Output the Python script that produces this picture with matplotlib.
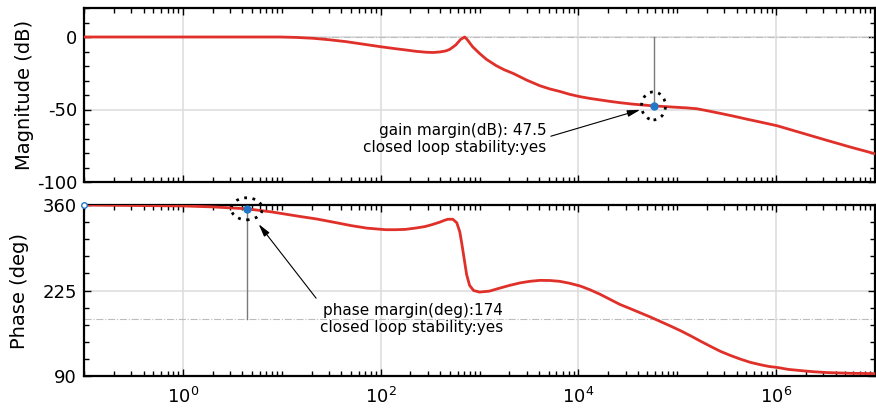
import numpy as np
import matplotlib.pyplot as plt
from matplotlib.patches import Ellipse
from matplotlib.ticker import FixedLocator, LogLocator, NullFormatter, MultipleLocator, LogFormatterSciNotation
from matplotlib.transforms import ScaledTranslation

plt.rcParams['font.family'] = 'DejaVu Sans'
plt.rcParams['axes.unicode_minus'] = False

# open loop magnitude, log10(w) -> dB
mag_logw = [-1.0, 0.0, 0.98, 1.15, 1.32, 1.48, 1.65, 1.82, 2.0, 2.13, 2.26, 2.36, 2.46,
            2.53, 2.60, 2.66, 2.70, 2.76, 2.81, 2.85, 2.88, 2.93, 3.0, 3.07, 3.17,
            3.25, 3.34, 3.48, 3.61, 3.71, 3.81, 3.91, 4.02, 4.12, 4.22, 4.32, 4.42,
            4.55, 4.76, 4.95, 5.10, 5.20, 5.30, 5.43, 5.57, 5.70, 5.85, 6.01, 6.25,
            6.50, 6.75, 7.01]
mag_db = [0.0, 0.0, 0.0, -0.3, -0.9, -1.9, -3.2, -4.9, -6.7, -7.9, -9.0, -9.9, -10.5,
          -10.7, -10.3, -9.6, -8.5, -5.5, -1.6, 0.0, -2.1, -6.7, -11.3, -15.4, -19.8,
          -22.6, -25.1, -29.8, -33.6, -35.8, -37.5, -39.5, -41.2, -42.4, -43.4, -44.4, -45.3,
          -46.3, -47.5, -48.3, -48.9, -49.5, -50.8, -52.6, -54.6, -56.6, -58.8, -61.2, -66.0,
          -71.0, -75.9, -80.7]

# open loop phase, log10(w) -> deg
phase_logw = [-1.0, 0.0, 0.3, 0.646, 0.9, 1.18, 1.35, 1.52, 1.7, 1.86, 2.05, 2.15,
              2.25, 2.35, 2.45, 2.52, 2.60, 2.64, 2.68, 2.73, 2.77, 2.80, 2.82, 2.85,
              2.87, 2.90, 2.94, 3.0, 3.1, 3.21, 3.31, 3.41, 3.51, 3.61, 3.71, 3.81,
              3.91, 4.02, 4.12, 4.22, 4.32, 4.42, 4.53, 4.63, 4.73, 4.83, 4.93, 5.04,
              5.14, 5.24, 5.34, 5.44, 5.54, 5.64, 5.74, 5.85, 5.93, 6.02, 6.12, 6.25,
              6.38, 6.52, 6.75, 7.01]
phase_deg = [360, 358.5, 357, 354, 349, 342, 338, 333, 327.5, 323.5, 321, 321,
             321.5, 323.5, 326, 329, 333, 335.5, 337.5, 337.5, 332, 318, 300, 270,
             250, 233, 225, 222.5, 224, 229, 233.3, 237, 239.5, 241, 240.8, 239.5,
             236.5, 232, 226, 219, 211, 203, 196, 189.5, 183, 176, 169, 161,
             153, 144.6, 136.5, 128.7, 122.3, 116.6, 111.5, 107.5, 105, 103.3, 100.5, 98.5,
             96.7, 95.4, 94.3, 93.7]

# margins
gm_logw = 4.76
gm_db = 47.5
pm_logw = 0.646
pm_deg = 174

red = '#e0302a'
blue = '#1f78c8'
w_mag = 10 ** np.array(mag_logw)
w_ph = 10 ** np.array(phase_logw)
gm_w = 10 ** gm_logw
pm_w = 10 ** pm_logw

fig = plt.figure(figsize=(8.76, 4.12), dpi=100)
ax1 = fig.add_axes([84 / 876, 1 - 182 / 412, 791 / 876, 174 / 412])
ax2 = fig.add_axes([84 / 876, 1 - 376 / 412, 791 / 876, 171 / 412])

for ax in (ax1, ax2):
    ax.set_xscale('log')
    ax.set_xlim(0.1, 1e7)
    ax.xaxis.set_major_locator(FixedLocator([1, 1e2, 1e4, 1e6]))
    ax.xaxis.set_minor_locator(LogLocator(base=10, subs=np.arange(1, 10), numticks=50))
    ax.xaxis.set_minor_formatter(NullFormatter())
    ax.grid(True, which='major', color='#dedede', lw=1.2)
    ax.tick_params(which='both', direction='in', top=True, right=True,
                   width=1, labelsize=13, pad=5)
    ax.tick_params(which='major', length=5)
    ax.tick_params(which='minor', length=3.5)
    for s in ax.spines.values():
        s.set_linewidth(1.6)
    ax.set_axisbelow(True)

# magnitude
ax1.plot(w_mag, mag_db, color=red, lw=2, zorder=3)
ax1.axhline(0, color='#bdbdbd', lw=0.8, ls='-.', zorder=2)
ax1.plot([gm_w, gm_w], [0, -gm_db], color='#7a7a7a', lw=1, zorder=2)
ax1.plot(gm_w, -gm_db, 'o', color=blue, ms=5, zorder=5)
ax1.set_ylim(-100, 20)
ax1.yaxis.set_major_locator(MultipleLocator(50))
ax1.yaxis.set_minor_locator(MultipleLocator(10))
ax1.tick_params(labelbottom=False)
ax1.set_ylabel('Magnitude (dB)', fontsize=14)
ax1.yaxis.set_label_coords(-0.063, 0.5)

t1 = fig.dpi_scale_trans + ScaledTranslation(gm_w, -gm_db, ax1.transData)
ax1.add_patch(Ellipse((0, 0), 0.24, 0.28, transform=t1, fill=False, ec='k',
                      lw=2, ls=(0, (1, 2)), zorder=6, clip_on=False))
ax1.annotate('gain margin(dB): %.1f\nclosed loop stability:yes' % gm_db,
             xy=(gm_w, -gm_db), xytext=(0.585, 0.247), textcoords='axes fraction',
             ha='right', va='center', fontsize=11, linespacing=1.15,
             arrowprops=dict(arrowstyle='-|>,head_length=0.7,head_width=0.18',
                             color='k', lw=0.8, relpos=(1, 0.55), shrinkA=1, shrinkB=10))

# phase
ax2.plot(w_ph, phase_deg, color=red, lw=2, zorder=3)
ax2.axhline(180, color='#bdbdbd', lw=0.8, ls='-.', zorder=2)
ax2.plot([pm_w, pm_w], [180 + pm_deg, 180], color='#7a7a7a', lw=1, zorder=2)
ax2.plot(pm_w, 180 + pm_deg, 'o', color=blue, ms=5, zorder=5)
ax2.plot(0.1, 360, 'o', mfc='white', mec=blue, ms=4, mew=1, zorder=6, clip_on=False)
ax2.set_ylim(90, 360)
ax2.yaxis.set_major_locator(FixedLocator([90, 225, 360]))
ax2.yaxis.set_minor_locator(FixedLocator(np.arange(90, 361, 27)))
ax2.xaxis.set_major_formatter(LogFormatterSciNotation())
ax2.tick_params(axis='x', pad=8)
ax2.set_ylabel('Phase (deg)', fontsize=14)
ax2.yaxis.set_label_coords(-0.069, 0.5)

t2 = fig.dpi_scale_trans + ScaledTranslation(pm_w, 180 + pm_deg, ax2.transData)
ax2.add_patch(Ellipse((0, 0), 0.31, 0.22, transform=t2, fill=False, ec='k',
                      lw=2, ls=(0, (1, 2)), zorder=6, clip_on=False))
ax2.annotate('phase margin(deg):%d\nclosed loop stability:yes' % pm_deg,
             xy=(pm_w, 180 + pm_deg), xytext=(0.53, 0.333), textcoords='axes fraction',
             ha='right', va='center', fontsize=11, linespacing=1.15,
             arrowprops=dict(arrowstyle='-|>,head_length=0.7,head_width=0.18',
                             color='k', lw=0.8, relpos=(0.0, 1.0), shrinkA=2, shrinkB=14))

fig.savefig('out.png', dpi=100)
